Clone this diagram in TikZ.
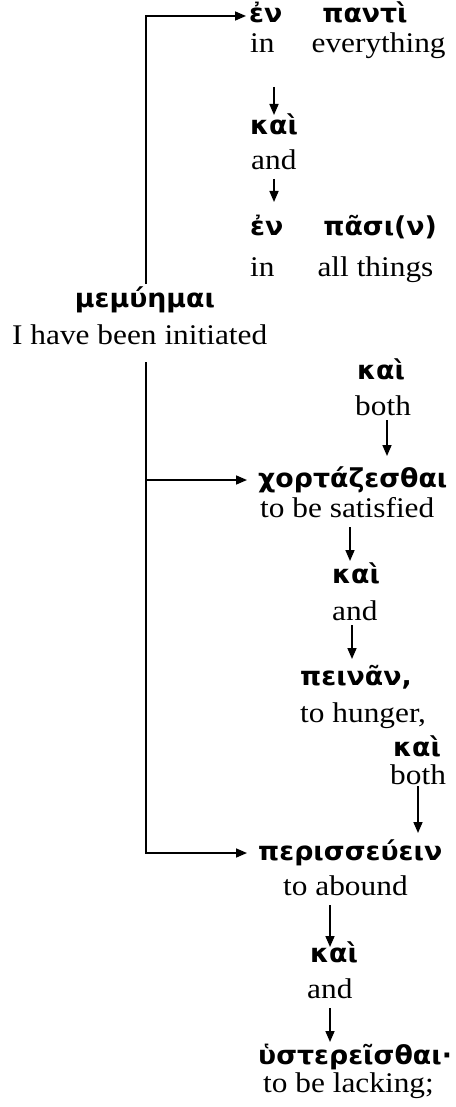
\documentclass[tikz,border=0pt]{standalone}
\usepackage{fontspec}
\setmainfont{Liberation Serif}[FakeStretch=1.1]
\newfontfamily\grk{DejaVu Sans}[FakeStretch=1.03]
\usetikzlibrary{arrows.meta,calc}
\newcommand{\ensz}{\fontsize{28.5}{30}\selectfont}
\newcommand{\grsz}{\grk\bfseries\fontsize{26}{28}\selectfont}
\begin{document}
\begin{tikzpicture}[x=1pt,y=-1pt,
  en/.style={anchor=base west,inner sep=0pt,font=\ensz},
  gr/.style={anchor=base west,inner sep=0pt,font=\grsz},
  arr/.style={-{Stealth[length=11pt,width=9pt,inset=0pt]},line width=1.6pt},
  ln/.style={line width=1.6pt}]
\useasboundingbox (0,0) rectangle (455,1107);
% upper branch
\node[gr] (g1) at (249,23) {ἐν\hspace{40pt}παντὶ};
\node[en] (e1) at (250,53) {in\hspace{37pt}everything};
\node[gr] (k1) at (250,135) {καὶ};
\node[en] (and1) at (251,170) {and};
\node[gr] (g2) at (250,236) {ἐν\hspace{40pt}πᾶσι(ν)};
\node[en] (e2) at (250,276) {in\hspace{43pt}all things};
% root
\node[gr,anchor=base] (mem) at (145,307) {μεμύημαι};
\node[en] (mem-en) at (12,344) {I have been initiated};
% lower branch
\node[gr] (k2) at (357,379) {καὶ};
\node[en] (both1) at (355,415) {both};
\node[gr] (chort) at (258,487) {χορτάζεσθαι};
\node[en] (sat) at (260,517) {to be satisfied};
\node[gr] (k3) at (332,583) {καὶ};
\node[en] (and3) at (332,620) {and};
\node[gr] (pein) at (300,685) {πεινᾶν,};
\node[en] (hung) at (300,722) {to hunger,};
\node[gr] (k4) at (393,756) {καὶ};
\node[en] (both2) at (390,784) {both};
\node[gr] (peri) at (258,860) {περισσεύειν};
\node[en] (abound) at (283,895) {to abound};
\node[gr] (k5) at (310,962) {καὶ};
\node[en] (and5) at (307,998) {and};
\node[gr] (hyst) at (258,1064) {ὑστερεῖσθαι·};
\node[en] (lack) at (263,1092) {to be lacking;};
% vertical arrows
\draw[arr] ($(e1.base west)+(24,34)$) -- ($(k1.base west)+(24,-20)$);
\draw[arr] ($(and1.base west)+(23,9)$) -- ($(g2.base west)+(24,-34)$);
\draw[arr] ($(both1.base west)+(32,5)$) -- ($(chort.base west)+(129,-31)$);
\draw[arr] ($(sat.base west)+(90,10)$) -- ($(k3.base west)+(18,-22)$);
\draw[arr] ($(and3.base west)+(20,5)$) -- ($(pein.base west)+(52,-26)$);
\draw[arr] ($(both2.base west)+(28,2)$) -- ($(peri.base west)+(160,-27)$);
\draw[arr] ($(abound.base west)+(47,10)$) -- ($(k5.base west)+(20,-15)$);
\draw[arr] ($(and5.base west)+(23,10)$) -- ($(hyst.base west)+(72,-22)$);
% brackets
\coordinate (upEnd) at (146,284);
\coordinate (lowTop) at (146,362);
\draw[arr] (upEnd) |- ($(g1.base west)+(-3,-7)$);
\draw[arr] (lowTop) |- ($(peri.base west)+(-11,-7)$);
\coordinate (mid) at (lowTop |- {$(chort.base west)+(0,-7)$});
\draw[arr] (mid) -- ($(chort.base west)+(-11,-7)$);
\end{tikzpicture}
\end{document}
